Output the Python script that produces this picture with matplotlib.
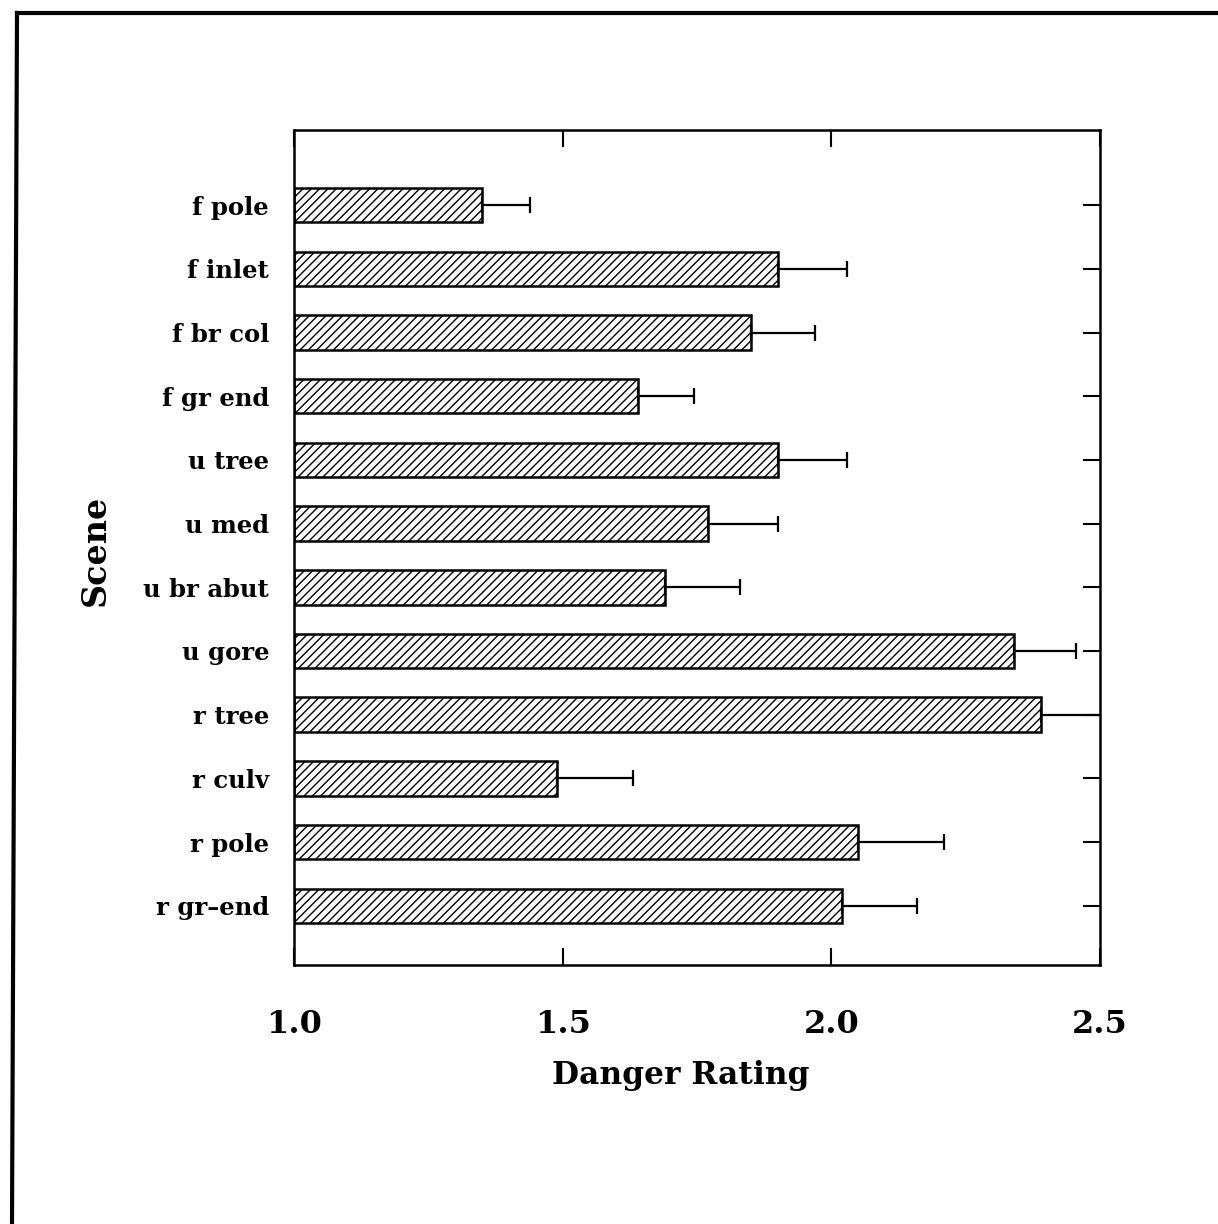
import matplotlib
matplotlib.use("Agg")
import matplotlib.pyplot as plt
from matplotlib.lines import Line2D
import numpy as np

scenes = ["f pole", "f inlet", "f br col", "f gr end", "u tree", "u med",
          "u br abut", "u gore", "r tree", "r culv", "r pole", "r gr\u2013end"]
ratings = [1.35, 1.90, 1.85, 1.64, 1.90, 1.77, 1.69, 2.34, 2.39, 1.49, 2.05, 2.02]
errors = [0.09, 0.13, 0.12, 0.105, 0.13, 0.13, 0.14, 0.115, 0.13, 0.14, 0.16, 0.14]
xticks = [1.0, 1.5, 2.0, 2.5]
xticklabels = ["1.0", "1.5", "2.0", "2.5"]

plt.rcParams['font.family'] = ['DejaVu Serif']
plt.rcParams['font.weight'] = 'bold'
plt.rcParams['hatch.linewidth'] = 1.0

W, H = 1218, 1224
fig = plt.figure(figsize=(W / 100, H / 100), dpi=100)
ax = fig.add_axes([294 / W, 1 - 965 / H, (1100 - 294) / W, (965 - 130) / H])

y = np.arange(len(scenes))
base = 1.0
ax.barh(y, [r - base for r in ratings], left=base, height=0.54,
        color='white', edgecolor='black', linewidth=1.8, hatch='////', zorder=2)
ax.errorbar(ratings, y, xerr=[np.zeros(len(errors)), errors], fmt='none',
            ecolor='black', elinewidth=1.6, capsize=5.5, capthick=1.6, zorder=3)

ax.set_xlim(1.0, 2.5)
ax.set_ylim(len(scenes) - 1 + 0.93, -1.18)
ax.set_xticks(xticks)
ax.set_xticklabels(xticklabels, fontsize=23, fontweight='bold')
ax.set_yticks(y)
ax.set_yticklabels(scenes, fontsize=17.5, fontweight='bold')

ax.tick_params(axis='x', direction='in', length=12, width=1.5, top=True, pad=32)
ax.tick_params(axis='y', direction='in', length=12, width=1.5, right=True, pad=18)
for s in ax.spines.values():
    s.set_linewidth(1.8)

ax.set_xlabel('Danger Rating', fontsize=22.5, fontweight='bold', va='center')
ax.xaxis.set_label_coords(0.48, -0.132)
ax.set_ylabel('Scene', fontsize=24, fontweight='bold', va='center')
ax.yaxis.set_label_coords(-0.246, 0.496)

# outer frame (top and left edges of the scanned page border)
fig.add_artist(Line2D([17 / W, 1.0], [1 - 13 / H, 1 - 13 / H],
                      transform=fig.transFigure, color='black', lw=3))
fig.add_artist(Line2D([17 / W, 12 / W], [1 - 13 / H, 0.0],
                      transform=fig.transFigure, color='black', lw=3))

fig.savefig('out.png', dpi=100, facecolor='white')
